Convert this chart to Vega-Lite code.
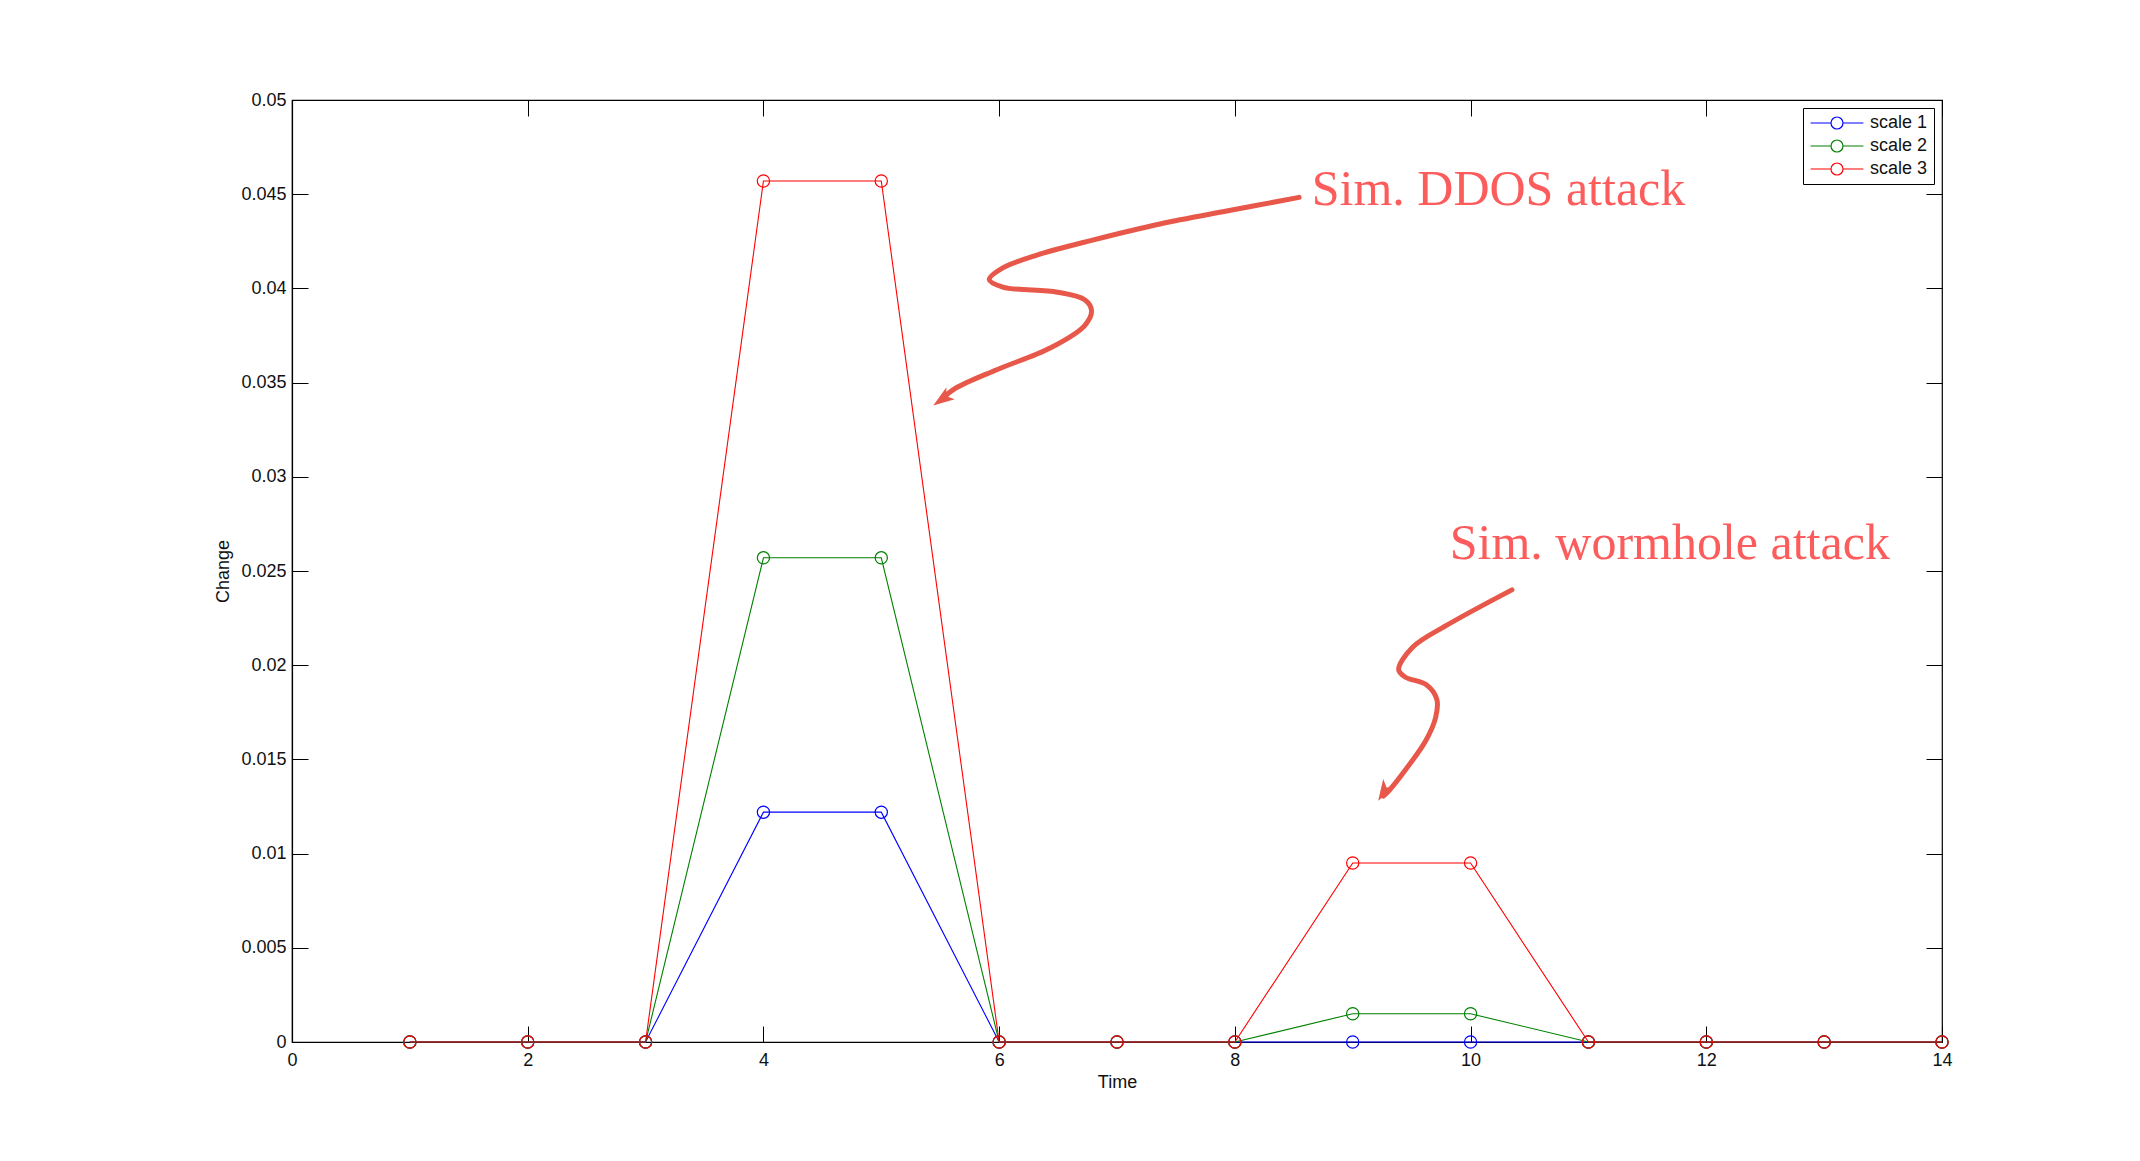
{
  "$schema": "https://vega.github.io/schema/vega-lite/v6.json",
  "autosize": {"type": "none"},
  "width": 1650,
  "height": 942,
  "padding": {"left": 292, "top": 100, "right": 198, "bottom": 119},
  "background": "white",
  "config": {
    "view": {"stroke": "black", "strokeWidth": 1.2},
    "font": "Liberation Sans",
    "axis": {
      "labelFont": "Liberation Sans", "labelFontSize": 18, "labelColor": "#111111", "labelFlush": false,
      "titleFont": "Liberation Sans", "titleFontSize": 18, "titleFontWeight": "normal", "titleColor": "#111111",
      "domainColor": "black", "domainWidth": 1.2, "tickColor": "black", "tickWidth": 1, "tickSize": -16, "grid": false
    },
    "legend": {
      "orient": "top-right", "offset": 8, "strokeColor": "black", "fillColor": "white", "padding": 6,
      "labelFont": "Liberation Sans", "labelFontSize": 18, "labelColor": "#111111", "rowPadding": 5
    }
  },
  "datasets": {
    "series": [
      {"series": "scale 1", "time": 1, "change": 0}, {"series": "scale 1", "time": 2, "change": 0},
      {"series": "scale 1", "time": 3, "change": 0}, {"series": "scale 1", "time": 4, "change": 0.0122},
      {"series": "scale 1", "time": 5, "change": 0.0122}, {"series": "scale 1", "time": 6, "change": 0},
      {"series": "scale 1", "time": 7, "change": 0}, {"series": "scale 1", "time": 8, "change": 0},
      {"series": "scale 1", "time": 9, "change": 0}, {"series": "scale 1", "time": 10, "change": 0},
      {"series": "scale 1", "time": 11, "change": 0}, {"series": "scale 1", "time": 12, "change": 0},
      {"series": "scale 1", "time": 13, "change": 0}, {"series": "scale 1", "time": 14, "change": 0},
      {"series": "scale 2", "time": 1, "change": 0}, {"series": "scale 2", "time": 2, "change": 0},
      {"series": "scale 2", "time": 3, "change": 0}, {"series": "scale 2", "time": 4, "change": 0.0257},
      {"series": "scale 2", "time": 5, "change": 0.0257}, {"series": "scale 2", "time": 6, "change": 0},
      {"series": "scale 2", "time": 7, "change": 0}, {"series": "scale 2", "time": 8, "change": 0},
      {"series": "scale 2", "time": 9, "change": 0.0015}, {"series": "scale 2", "time": 10, "change": 0.0015},
      {"series": "scale 2", "time": 11, "change": 0}, {"series": "scale 2", "time": 12, "change": 0},
      {"series": "scale 2", "time": 13, "change": 0}, {"series": "scale 2", "time": 14, "change": 0},
      {"series": "scale 3", "time": 1, "change": 0}, {"series": "scale 3", "time": 2, "change": 0},
      {"series": "scale 3", "time": 3, "change": 0}, {"series": "scale 3", "time": 4, "change": 0.0457},
      {"series": "scale 3", "time": 5, "change": 0.0457}, {"series": "scale 3", "time": 6, "change": 0},
      {"series": "scale 3", "time": 7, "change": 0}, {"series": "scale 3", "time": 8, "change": 0},
      {"series": "scale 3", "time": 9, "change": 0.0095}, {"series": "scale 3", "time": 10, "change": 0.0095},
      {"series": "scale 3", "time": 11, "change": 0}, {"series": "scale 3", "time": 12, "change": 0},
      {"series": "scale 3", "time": 13, "change": 0}, {"series": "scale 3", "time": 14, "change": 0}
    ],
    "arrows": [
      {"arrow": "ddos", "i": 1, "x": 8.545, "y": 0.04483},
      {"arrow": "ddos", "i": 2, "x": 7.942, "y": 0.04412},
      {"arrow": "ddos", "i": 3, "x": 7.364, "y": 0.04342},
      {"arrow": "ddos", "i": 4, "x": 6.784, "y": 0.04255},
      {"arrow": "ddos", "i": 5, "x": 6.321, "y": 0.04177},
      {"arrow": "ddos", "i": 6, "x": 6.031, "y": 0.04109},
      {"arrow": "ddos", "i": 7, "x": 5.916, "y": 0.04047},
      {"arrow": "ddos", "i": 8, "x": 6.031, "y": 0.04007},
      {"arrow": "ddos", "i": 9, "x": 6.495, "y": 0.0398},
      {"arrow": "ddos", "i": 10, "x": 6.726, "y": 0.0394},
      {"arrow": "ddos", "i": 11, "x": 6.784, "y": 0.03882},
      {"arrow": "ddos", "i": 12, "x": 6.726, "y": 0.03803},
      {"arrow": "ddos", "i": 13, "x": 6.437, "y": 0.03685},
      {"arrow": "ddos", "i": 14, "x": 5.974, "y": 0.03567},
      {"arrow": "ddos", "i": 15, "x": 5.627, "y": 0.03469},
      {"arrow": "ddos", "i": 16, "x": 5.52, "y": 0.03415},
      {"arrow": "worm", "i": 1, "x": 10.351, "y": 0.024},
      {"arrow": "worm", "i": 2, "x": 9.795, "y": 0.02211},
      {"arrow": "worm", "i": 3, "x": 9.506, "y": 0.02094},
      {"arrow": "worm", "i": 4, "x": 9.39, "y": 0.01976},
      {"arrow": "worm", "i": 5, "x": 9.448, "y": 0.01936},
      {"arrow": "worm", "i": 6, "x": 9.622, "y": 0.01897},
      {"arrow": "worm", "i": 7, "x": 9.714, "y": 0.01818},
      {"arrow": "worm", "i": 8, "x": 9.703, "y": 0.01721},
      {"arrow": "worm", "i": 9, "x": 9.622, "y": 0.01602},
      {"arrow": "worm", "i": 10, "x": 9.448, "y": 0.01445},
      {"arrow": "worm", "i": 11, "x": 9.309, "y": 0.01335},
      {"arrow": "worm", "i": 12, "x": 9.26, "y": 0.01305}
    ],
    "heads": [
      {"arrow": "ddos", "x": 5.441, "y": 0.03379},
      {"arrow": "worm", "x": 9.216, "y": 0.0128}
    ],
    "labels": [
      {"label": "Sim. DDOS attack", "x": 8.652, "y": 0.04445},
      {"label": "Sim. wormhole attack", "x": 9.823, "y": 0.02566}
    ]
  },
  "layer": [
    {
      "data": {"name": "series"},
      "mark": {"type": "line", "strokeWidth": 1.1},
      "encoding": {
        "x": {"field": "time", "type": "quantitative", "scale": {"domain": [0, 14], "nice": false, "zero": false},
              "axis": {"orient": "bottom", "values": [0, 2, 4, 6, 8, 10, 12, 14], "title": "Time", "labelPadding": 25, "titlePadding": 4}},
        "y": {"field": "change", "type": "quantitative", "scale": {"domain": [0, 0.05], "nice": false},
              "axis": {"orient": "left", "values": [0, 0.005, 0.01, 0.015, 0.02, 0.025, 0.03, 0.035, 0.04, 0.045, 0.05], "format": ".3~f", "title": "Change", "labelPadding": 22, "titlePadding": 8}},
        "color": {"field": "series", "type": "nominal",
                  "scale": {"domain": ["scale 1", "scale 2", "scale 3"], "range": ["#0000ff", "#008000", "#ff0000"]},
                  "legend": {"title": null, "symbolType": "M-3.3,0L-0.75,0M0.75,0L3.3,0M-0.75,0A0.75,0.75,0,1,0,0.75,0A0.75,0.75,0,1,0,-0.75,0", "symbolSize": 256, "symbolStrokeWidth": 1.2, "symbolFillColor": "transparent", "symbolOffset": 19, "labelOffset": 24}},
        "order": {"field": "time", "type": "quantitative"}
      }
    },
    {
      "data": {"name": "series"},
      "mark": {"type": "point", "shape": "circle", "filled": false, "size": 150, "strokeWidth": 1.2, "opacity": 1},
      "encoding": {
        "x": {"field": "time", "type": "quantitative",
              "axis": {"orient": "top", "values": [0, 2, 4, 6, 8, 10, 12, 14], "labels": false, "title": null, "domain": false}},
        "y": {"field": "change", "type": "quantitative",
              "axis": {"orient": "right", "values": [0, 0.005, 0.01, 0.015, 0.02, 0.025, 0.03, 0.035, 0.04, 0.045, 0.05], "labels": false, "title": null, "domain": false}},
        "color": {"field": "series", "type": "nominal"}
      }
    },
    {
      "data": {"name": "arrows"},
      "mark": {"type": "line", "color": "#e8584a", "strokeWidth": 5, "strokeCap": "round", "interpolate": "catmull-rom"},
      "encoding": {
        "x": {"field": "x", "type": "quantitative", "axis": null},
        "y": {"field": "y", "type": "quantitative", "axis": null},
        "detail": {"field": "arrow"},
        "order": {"field": "i", "type": "quantitative"}
      }
    },
    {
      "data": {"name": "heads"},
      "transform": [{"filter": "datum.arrow == 'ddos'"}],
      "mark": {"type": "point", "shape": "M0,0L0.55,1.6L0,1.2L-0.55,1.6Z", "filled": true, "color": "#e8584a", "opacity": 1, "size": 700, "angle": 235},
      "encoding": {
        "x": {"field": "x", "type": "quantitative", "axis": null},
        "y": {"field": "y", "type": "quantitative", "axis": null}
      }
    },
    {
      "data": {"name": "heads"},
      "transform": [{"filter": "datum.arrow == 'worm'"}],
      "mark": {"type": "point", "shape": "M0,0L0.55,1.6L0,1.2L-0.55,1.6Z", "filled": true, "color": "#e8584a", "opacity": 1, "size": 700, "angle": 212},
      "encoding": {
        "x": {"field": "x", "type": "quantitative", "axis": null},
        "y": {"field": "y", "type": "quantitative", "axis": null}
      }
    },
    {
      "data": {"name": "labels"},
      "mark": {"type": "text", "font": "Liberation Serif", "fontSize": 50, "color": "#fd5c5c", "align": "left", "baseline": "alphabetic"},
      "encoding": {
        "x": {"field": "x", "type": "quantitative", "axis": null},
        "y": {"field": "y", "type": "quantitative", "axis": null},
        "text": {"field": "label"}
      }
    }
  ],
  "resolve": {"axis": {"x": "independent", "y": "independent"}}
}
